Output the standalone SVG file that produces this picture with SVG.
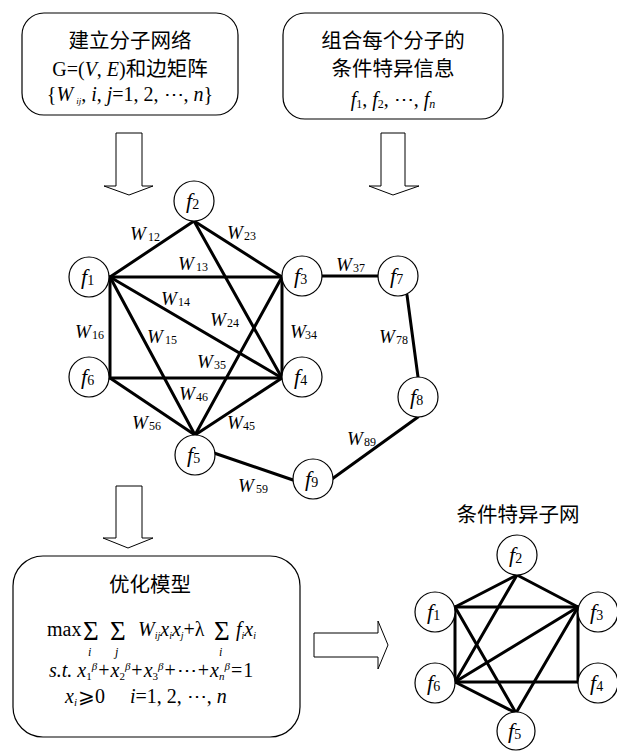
<svg xmlns="http://www.w3.org/2000/svg" width="617" height="751" viewBox="0 0 617 751">
<style>
.box{fill:#fff;stroke:#000;stroke-width:1.2}
.arr{fill:#fff;stroke:#000;stroke-width:1}
.e{stroke:#000;stroke-width:3;stroke-linecap:round;fill:none}
.n{fill:#fff;stroke:#000;stroke-width:1.2}
.cjk{font-family:"Noto Sans CJK SC",sans-serif;font-size:20.5px}
.m{font-family:"Liberation Serif",serif;font-size:20px}
.i{font-style:italic}
.f{font-family:"Liberation Serif",serif;font-size:22px;font-style:italic}
.fs{font-size:14px;font-style:normal}
.w{font-family:"Liberation Serif",serif;font-size:19px;font-style:italic}
.ws{font-size:12px;font-style:normal}
.sg{font-family:"Liberation Serif",serif;font-size:27px}
.lim{font-family:"Liberation Serif",serif;font-size:12px;font-style:italic}
</style>
<g id="box1">
<rect class="box" x="22" y="13" width="216" height="102" rx="22"/>
<text class="cjk" x="130" y="48" text-anchor="middle">建立分子网络</text>
<text class="m" x="130" y="76" text-anchor="middle">G=(<tspan class="i">V</tspan>, <tspan class="i">E</tspan>)<tspan class="cjk">和边矩阵</tspan></text>
<text class="m" x="130" y="101" text-anchor="middle">{<tspan class="i">W</tspan><tspan font-size="9" class="i" dx="3" dy="3">ij</tspan><tspan dy="-3">, </tspan><tspan class="i">i</tspan>, <tspan class="i">j</tspan>=1, 2, ⋯, <tspan class="i">n</tspan>}</text>
</g>
<g id="box2">
<rect class="box" x="283" y="13" width="220" height="106" rx="22"/>
<text class="cjk" x="393" y="48" text-anchor="middle">组合每个分子的</text>
<text class="cjk" x="393" y="76" text-anchor="middle">条件特异信息</text>
<text class="m" x="393" y="106" text-anchor="middle"><tspan class="i">f</tspan><tspan font-size="12" dy="2">1</tspan><tspan dy="-2">, </tspan><tspan class="i">f</tspan><tspan font-size="12" dy="2">2</tspan><tspan dy="-2">, ⋯, </tspan><tspan class="i">f</tspan><tspan font-size="12" class="i" dy="2">n</tspan></text>
</g>
<g id="arrows">
<polygon class="arr" points="116,133 142,133 142,186 153,186 129,195 104,186 116,186"/>
<polygon class="arr" points="381,133 405,133 405,186 419,186 393,195 369,186 381,186"/>
<polygon class="arr" points="116,486 142,486 142,538 153,538 128,548 103,538 116,538"/>
<polygon class="arr" points="314,633 378,633 378,621 388,645 378,669 378,657 314,657"/>
</g>
<g id="connectors">
<line class="e" x1="110" y1="277" x2="194" y2="221"/>
<line class="e" x1="194" y1="221" x2="282" y2="277"/>
<line class="e" x1="110" y1="277" x2="282" y2="277"/>
<line class="e" x1="110" y1="277" x2="282" y2="378"/>
<line class="e" x1="110" y1="277" x2="195" y2="435"/>
<line class="e" x1="110" y1="277" x2="110" y2="378"/>
<line class="e" x1="194" y1="221" x2="282" y2="378"/>
<line class="e" x1="282" y1="277" x2="282" y2="378"/>
<line class="e" x1="282" y1="277" x2="195" y2="435"/>
<line class="e" x1="110" y1="378" x2="282" y2="378"/>
<line class="e" x1="282" y1="378" x2="195" y2="435"/>
<line class="e" x1="110" y1="378" x2="195" y2="435"/>
<line class="e" x1="322" y1="276" x2="378" y2="276"/>
<line class="e" x1="407" y1="295" x2="418" y2="377"/>
<line class="e" x1="418" y1="417" x2="332" y2="479"/>
<line class="e" x1="214" y1="453" x2="293" y2="480"/>
<line class="e" x1="455" y1="607" x2="517" y2="575"/>
<line class="e" x1="517" y1="575" x2="578" y2="607"/>
<line class="e" x1="455" y1="607" x2="578" y2="607"/>
<line class="e" x1="455" y1="607" x2="455" y2="682"/>
<line class="e" x1="578" y1="607" x2="578" y2="682"/>
<line class="e" x1="455" y1="682" x2="578" y2="682"/>
<line class="e" x1="455" y1="607" x2="516" y2="713"/>
<line class="e" x1="517" y1="575" x2="455" y2="682"/>
<line class="e" x1="455" y1="682" x2="578" y2="607"/>
<line class="e" x1="455" y1="682" x2="516" y2="713"/>
<line class="e" x1="578" y1="607" x2="516" y2="713"/>
</g>
<g id="edge-labels">
<text class="w" x="130" y="240">W<tspan class="ws" x="148" dy="1">12</tspan></text>
<text class="w" x="227" y="239">W<tspan class="ws" x="244" dy="1">23</tspan></text>
<text class="w" x="178" y="270">W<tspan class="ws" x="196" dy="1">13</tspan></text>
<text class="w" x="161" y="305">W<tspan class="ws" x="178" dy="1">14</tspan></text>
<text class="w" x="210" y="326">W<tspan class="ws" x="227" dy="1">24</tspan></text>
<text class="w" x="75" y="338">W<tspan class="ws" x="92" dy="1">16</tspan></text>
<text class="w" x="147" y="343">W<tspan class="ws" x="165" dy="1">15</tspan></text>
<text class="w" x="290" y="338">W<tspan class="ws" x="305" dy="1">34</tspan></text>
<text class="w" x="197" y="368">W<tspan class="ws" x="214" dy="1">35</tspan></text>
<text class="w" x="179" y="400">W<tspan class="ws" x="196" dy="1">46</tspan></text>
<text class="w" x="132" y="429">W<tspan class="ws" x="149" dy="1">56</tspan></text>
<text class="w" x="227" y="429">W<tspan class="ws" x="243" dy="1">45</tspan></text>
<text class="w" x="336" y="271">W<tspan class="ws" x="353" dy="1">37</tspan></text>
<text class="w" x="379" y="343">W<tspan class="ws" x="396" dy="1">78</tspan></text>
<text class="w" x="347" y="445">W<tspan class="ws" x="364" dy="1">89</tspan></text>
<text class="w" x="238" y="492">W<tspan class="ws" x="256" dy="1">59</tspan></text>
</g>
<g id="node-f1"><circle class="n" cx="89" cy="277" r="20"/><text class="f" x="81" y="284">f<tspan class="fs" dy="1">1</tspan></text></g>
<g id="node-f2"><circle class="n" cx="194" cy="201" r="20"/><text class="f" x="186" y="208">f<tspan class="fs" dy="1">2</tspan></text></g>
<g id="node-f3"><circle class="n" cx="302" cy="276" r="20"/><text class="f" x="294" y="283">f<tspan class="fs" dy="1">3</tspan></text></g>
<g id="node-f4"><circle class="n" cx="302" cy="377" r="20"/><text class="f" x="294" y="384">f<tspan class="fs" dy="1">4</tspan></text></g>
<g id="node-f5"><circle class="n" cx="195" cy="455" r="20"/><text class="f" x="187" y="462">f<tspan class="fs" dy="1">5</tspan></text></g>
<g id="node-f6"><circle class="n" cx="89" cy="377" r="20"/><text class="f" x="81" y="384">f<tspan class="fs" dy="1">6</tspan></text></g>
<g id="node-f7"><circle class="n" cx="398" cy="276" r="20"/><text class="f" x="390" y="283">f<tspan class="fs" dy="1">7</tspan></text></g>
<g id="node-f8"><circle class="n" cx="418" cy="397" r="20"/><text class="f" x="410" y="404">f<tspan class="fs" dy="1">8</tspan></text></g>
<g id="node-f9"><circle class="n" cx="313" cy="479" r="20"/><text class="f" x="305" y="486">f<tspan class="fs" dy="1">9</tspan></text></g>
<g id="box3">
<rect class="box" x="13" y="556" width="287" height="181" rx="30"/>
<text class="cjk" x="150" y="592" text-anchor="middle">优化模型</text>
<text class="m" x="47" y="636" font-size="18">max</text>
<text class="sg" x="83" y="640">Σ</text>
<text class="lim" x="88" y="656">i</text>
<text class="sg" x="110" y="640">Σ</text>
<text class="lim" x="115" y="656">j</text>
<text class="m" x="138" y="636" font-size="18"><tspan class="i">W</tspan><tspan class="i" font-size="10" dy="3">ij</tspan><tspan class="i" dy="-3">x</tspan><tspan class="i" font-size="10" dy="3">i</tspan><tspan class="i" dy="-3">x</tspan><tspan class="i" font-size="10" dy="3">j</tspan><tspan dy="-3">+λ</tspan></text>
<text class="sg" x="214" y="640">Σ</text>
<text class="lim" x="219" y="656">i</text>
<text class="m" x="236" y="636" font-size="18"><tspan class="i">f</tspan><tspan class="i" font-size="10" dy="3">i</tspan><tspan class="i" dy="-3">x</tspan><tspan class="i" font-size="10" dy="3">i</tspan></text>
<text class="m" x="49" y="677" font-size="18"><tspan class="i">s.t. x</tspan><tspan font-size="11" dy="3">1</tspan><tspan class="i" font-size="11" dy="-10">β</tspan><tspan dx="1" dy="7">+</tspan><tspan class="i" dx="1">x</tspan><tspan font-size="11" dy="3">2</tspan><tspan class="i" font-size="11" dy="-10">β</tspan><tspan dx="1" dy="7">+</tspan><tspan class="i" dx="1">x</tspan><tspan font-size="11" dy="3">3</tspan><tspan class="i" font-size="11" dy="-10">β</tspan><tspan dx="1" dy="7">+</tspan><tspan dx="1">⋯</tspan><tspan dx="1">+</tspan><tspan class="i" dx="1">x</tspan><tspan class="i" font-size="11" dy="3">n</tspan><tspan class="i" font-size="11" dy="-10">β</tspan><tspan dx="1" dy="7">=</tspan><tspan dx="1">1</tspan></text>
<text class="m" x="65" y="703" font-size="19"><tspan class="i">x</tspan><tspan class="i" font-size="11" dy="3">i</tspan><tspan dx="1" dy="-3">⩾0</tspan><tspan class="i" x="130">i</tspan>=1, 2, ⋯, <tspan class="i">n</tspan></text>
</g>
<g id="subnet">
<text class="cjk" x="518" y="522" text-anchor="middle">条件特异子网</text>
<g id="sub-f1"><circle class="n" cx="435" cy="612" r="20"/><text class="f" x="427" y="619">f<tspan class="fs" dy="1">1</tspan></text></g>
<g id="sub-f2"><circle class="n" cx="517" cy="555" r="20"/><text class="f" x="509" y="562">f<tspan class="fs" dy="1">2</tspan></text></g>
<g id="sub-f3"><circle class="n" cx="598" cy="612" r="20"/><text class="f" x="590" y="619">f<tspan class="fs" dy="1">3</tspan></text></g>
<g id="sub-f4"><circle class="n" cx="598" cy="683" r="20"/><text class="f" x="590" y="690">f<tspan class="fs" dy="1">4</tspan></text></g>
<g id="sub-f5"><circle class="n" cx="516" cy="731" r="19"/><text class="f" x="508" y="738">f<tspan class="fs" dy="1">5</tspan></text></g>
<g id="sub-f6"><circle class="n" cx="435" cy="683" r="20"/><text class="f" x="427" y="690">f<tspan class="fs" dy="1">6</tspan></text></g>
</g>
</svg>
